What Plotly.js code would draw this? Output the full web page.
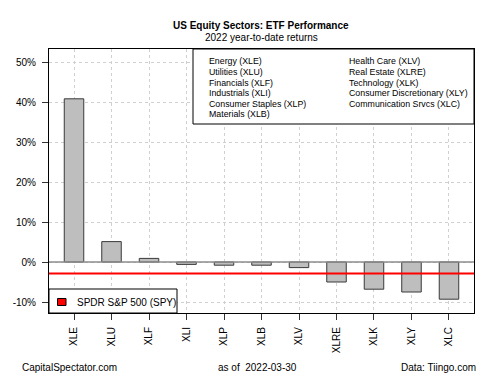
<!DOCTYPE html>
<html>
<head>
<meta charset="utf-8">
<script src="https://cdn.plot.ly/plotly-3.0.1.min.js"></script>
<style>html,body{margin:0;padding:0;background:#fff;}#chart{width:500px;height:375px;}</style>
</head>
<body>
<div id="chart"></div>
<script>
// Data (2022 YTD returns, %)
var tickers = ["XLE","XLU","XLF","XLI","XLP","XLB","XLV","XLRE","XLK","XLY","XLC"];
var returns = [40.8, 5.1, 0.9, -0.6, -0.8, -0.8, -1.4, -5.0, -6.8, -7.5, -9.3];
var spyReturn = -2.9;
var spyLabel = "SPDR S&P 500 (SPY)";
var sectorNamesCol1 = ["Energy (XLE)","Utilities (XLU)","Financials (XLF)","Industrials (XLI)","Consumer Staples (XLP)","Materials (XLB)"];
var sectorNamesCol2 = ["Health Care (XLV)","Real Estate (XLRE)","Technology (XLK)","Consumer Discretionary (XLY)","Communication Srvcs (XLC)"];
var yTickVals = [-10, 0, 10, 20, 30, 40, 50];

var FONT = "Liberation Sans, Arial, sans-serif";
// plot area pixel geometry
var L = 49, R = 474, T = 49, B = 313;
var W = R - L, H = B - T;
function px(x){ return (x - L) / W; }
function py(y){ return (B - y) / H; }

var trace = {
  type: "bar",
  x: tickers,
  y: returns,
  width: 0.52,
  marker: {color: "#bebebe", line: {color: "#3a3a3a", width: 1}},
  hoverinfo: "skip"
};

var annotations = [
  {text: "<b>US Equity Sectors: ETF Performance</b>", x: px(261), y: py(25), xref: "paper", yref: "paper", showarrow: false, xanchor: "center", yanchor: "middle", font: {size: 10, color: "#000", family: FONT}},
  {text: "2022 year-to-date returns", x: px(261), y: py(37), xref: "paper", yref: "paper", showarrow: false, xanchor: "center", yanchor: "middle", font: {size: 10, color: "#000", family: FONT}},
  {text: "CapitalSpectator.com", x: px(20), y: py(367), xref: "paper", yref: "paper", showarrow: false, xanchor: "left", yanchor: "middle", font: {size: 10, color: "#000", family: FONT}},
  {text: "as of  2022-03-30", x: px(257), y: py(367), xref: "paper", yref: "paper", showarrow: false, xanchor: "center", yanchor: "middle", font: {size: 10, color: "#000", family: FONT}},
  {text: "Data: Tiingo.com", x: px(478), y: py(367), xref: "paper", yref: "paper", showarrow: false, xanchor: "right", yanchor: "middle", font: {size: 10, color: "#000", family: FONT}},
  {text: spyLabel, x: px(75), y: py(302), xref: "paper", yref: "paper", showarrow: false, xanchor: "left", yanchor: "middle", font: {size: 10, color: "#000", family: FONT}}
];
var rowY = [61.3, 71.9, 82.5, 93.1, 103.7, 114.3];
sectorNamesCol1.forEach(function(t, i){
  annotations.push({text: t, x: px(207), y: py(rowY[i]), xref: "paper", yref: "paper", showarrow: false, xanchor: "left", yanchor: "middle", font: {size: 8.8, color: "#000", family: FONT}});
});
sectorNamesCol2.forEach(function(t, i){
  annotations.push({text: t, x: px(346.5), y: py(rowY[i]), xref: "paper", yref: "paper", showarrow: false, xanchor: "left", yanchor: "middle", font: {size: 8.8, color: "#000", family: FONT}});
});

var shapes = [
  // zero line
  {type: "line", xref: "paper", x0: 0, x1: 1, yref: "y", y0: 0, y1: 0, line: {color: "#8c8c8c", width: 1.5}, layer: "above"},
  // SPY benchmark line
  {type: "line", xref: "paper", x0: 0, x1: 1, yref: "y", y0: spyReturn, y1: spyReturn, line: {color: "#ff0000", width: 2}, layer: "above"},
  // sector legend box
  {type: "rect", xref: "paper", yref: "paper", x0: px(193), x1: 1, y0: py(124), y1: 1, fillcolor: "#fff", line: {color: "#000", width: 1}, layer: "above"},
  // SPY legend box
  {type: "rect", xref: "paper", yref: "paper", x0: 0, x1: px(177), y0: 0, y1: py(289), fillcolor: "#fff", line: {color: "#000", width: 1}, layer: "above"},
  // SPY legend key
  {type: "rect", xref: "paper", yref: "paper", x0: px(57.5), x1: px(66), y0: py(305.5), y1: py(298.5), fillcolor: "#ff0000", line: {color: "#000", width: 1}, layer: "above"}
];

var layout = {
  width: 500, height: 375,
  margin: {l: L, r: 500 - R, t: T, b: 375 - B, pad: 0},
  paper_bgcolor: "#fff", plot_bgcolor: "#fff",
  showlegend: false,
  font: {family: FONT, size: 10, color: "#000"},
  xaxis: {
    type: "category",
    range: [-0.667, 10.667],
    tickangle: -90,
    ticks: "outside", ticklen: 6, tickcolor: "#333", tickwidth: 1,
    ticklabelstandoff: 3,
    showgrid: true, gridcolor: "#d0d0d0", griddash: "dot", gridwidth: 1,
    showline: true, mirror: true, linecolor: "#000", linewidth: 1,
    tickfont: {size: 10, family: FONT, color: "#000"},
    zeroline: false, fixedrange: true
  },
  yaxis: {
    range: [-12.75, 53.25],
    tickvals: yTickVals,
    ticktext: yTickVals.map(function(v){ return v + "%"; }),
    ticks: "outside", ticklen: 6, tickcolor: "#333", tickwidth: 1,
    ticklabelstandoff: 4,
    showgrid: true, gridcolor: "#d0d0d0", griddash: "dot", gridwidth: 1,
    showline: true, mirror: true, linecolor: "#000", linewidth: 1,
    tickfont: {size: 10, family: FONT, color: "#000"},
    zeroline: false, fixedrange: true
  },
  annotations: annotations,
  shapes: shapes
};

Plotly.newPlot("chart", [trace], layout, {staticPlot: true, displayModeBar: false});
</script>
</body>
</html>
